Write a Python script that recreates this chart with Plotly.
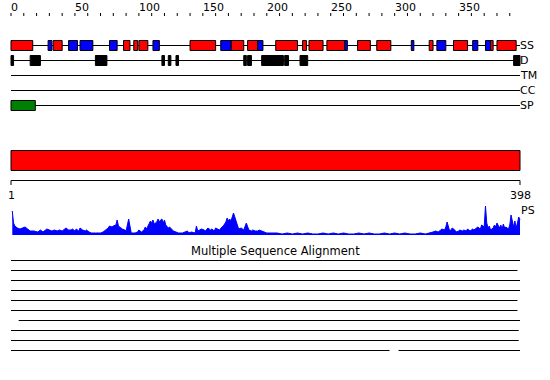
import plotly.graph_objects as go

# ---------------- data ----------------
seq_len = 398
seq_start = 1
ruler_labels = [0, 50, 100, 150, 200, 250, 300, 350]
ruler_ticks = list(range(0, 391, 10))

track_names = ["SS", "D", "TM", "CC", "SP"]

helix_start = [0, 33, 88, 96, 100, 140, 172, 185, 207, 228, 233, 247, 271, 286, 327, 346, 375, 380]
helix_end   = [17, 40, 93, 99, 107, 160, 182, 193, 224, 231, 244, 261, 281, 297, 330, 357, 377, 395]
strand_start = [29, 45, 54, 77, 111, 164, 193, 261, 313, 333, 361, 371]
strand_end   = [32, 52, 64, 83, 116, 172, 197, 263, 315, 340, 365, 375]

disorder_start = [0, 15, 66, 118, 123, 129, 182, 185, 196, 214, 226, 393]
disorder_end   = [2, 23, 75, 120, 125, 131, 184, 188, 213, 217, 232, 398]

signal_start = [0]
signal_end = [19]

domain_start = [0]
domain_end = [398]

ps_res = [1, 2, 3, 5, 7, 9, 11, 13, 15, 18, 21, 23, 25, 27, 28, 30, 32, 34, 36, 38,
          40, 42, 43, 45, 47, 48, 50, 51, 53, 54, 56, 58, 59, 61, 63, 66, 70, 72, 74, 76,
          77, 79, 80, 82, 83, 84, 86, 87, 89, 90, 91, 92, 93, 94, 97, 99, 100, 102, 104, 105,
          106, 108, 109, 110, 111, 112, 114, 115, 116, 117, 118, 119, 120, 121, 123, 124, 126, 127, 129, 131,
          134, 136, 138, 139, 141, 144, 145, 146, 148, 149, 151, 152, 154, 156, 157, 159, 160, 162, 163, 165,
          166, 168, 169, 170, 171, 172, 174, 175, 176, 177, 178, 180, 182, 184, 185, 186, 188, 189, 191, 193,
          194, 196, 197, 200, 204, 208, 212, 216, 220, 224, 228, 232, 236, 240, 244, 248, 252, 256, 260, 264,
          268, 272, 276, 280, 284, 288, 292, 296, 300, 304, 308, 312, 316, 320, 324, 328, 330, 332, 334, 336,
          337, 339, 340, 341, 342, 343, 344, 345, 347, 348, 350, 351, 353, 354, 356, 357, 359, 361, 362, 364,
          365, 367, 368, 370, 371, 372, 373, 374, 375, 377, 378, 379, 380, 382, 383, 384, 385, 386, 387, 389,
          390, 391, 392, 393, 394, 395, 396, 397, 398]
ps_score = [24, 12, 9, 7, 6, 7, 8, 6, 4, 4, 3, 5, 3, 5, 6, 5, 4, 5, 4, 5,
            4, 6, 7, 5, 5, 6, 4, 6, 4, 7, 5, 4, 5, 3, 2, 2, 2, 3, 5, 7,
            9, 8, 9, 10, 15, 9, 7, 6, 5, 4, 10, 16, 9, 2, 2, 3, 5, 3, 5, 8,
            6, 11, 14, 12, 15, 11, 13, 16, 13, 15, 16, 12, 15, 10, 7, 8, 5, 4, 3, 2,
            2, 3, 4, 2, 3, 2, 9, 4, 5, 6, 5, 4, 7, 5, 6, 4, 7, 6, 5, 8,
            9, 13, 17, 14, 16, 14, 22, 18, 14, 10, 6, 7, 5, 12, 8, 5, 4, 5, 4, 4,
            5, 4, 3, 2, 2, 2, 1, 2, 1, 2, 1, 2, 1, 1, 2, 1, 2, 1, 2, 1,
            1, 2, 1, 2, 1, 1, 2, 1, 2, 1, 2, 1, 1, 2, 1, 2, 3, 4, 3, 5,
            6, 5, 8, 13, 7, 4, 5, 7, 5, 3, 4, 5, 4, 5, 4, 6, 4, 6, 5, 7,
            8, 6, 10, 8, 29, 12, 7, 9, 5, 7, 10, 8, 12, 7, 10, 6, 11, 7, 8, 6,
            10, 20, 12, 8, 14, 7, 12, 18, 15]

msa_segments = [
    [(0, 398)], [(0, 396)], [(0, 398)], [(0, 398)], [(0, 396)],
    [(0, 396)], [(6, 398)], [(0, 397)], [(0, 397)], [(0, 296), (303, 398)],
]

# ---------------- layout helpers ----------------
W, H = 550, 380
X_LEFT_PX, X_RIGHT_PX = 11, 520   # where residue 0 / seq_len sit on the page
scale = (X_RIGHT_PX - X_LEFT_PX) / seq_len
xr = [-X_LEFT_PX / scale, (W - X_LEFT_PX) / scale]
yr = [H, 0]                       # y axis in pixel rows (layout only)

row_y = {"SS": 45.5, "D": 60.5, "TM": 75.5, "CC": 90.5, "SP": 105.5}
box_half = 5
RED, BLUE, GREEN, BLACK = "#ff0000", "#0000ff", "#008000", "#000000"
FONT = "DejaVu Sans"

shapes = []
annotations = []

def hline(x0, x1, y, color=BLACK, width=1):
    shapes.append(dict(type="line", xref="x", yref="y", x0=x0, x1=x1, y0=y, y1=y,
                       line=dict(color=color, width=width)))

def rect(x0, x1, yc, half, fill):
    shapes.append(dict(type="rect", xref="x", yref="y", x0=x0, x1=x1, y0=yc - half, y1=yc + half,
                       fillcolor=fill, line=dict(color=BLACK, width=1)))

def label(x, y, text, xanchor="left", xshift=0, size=11):
    annotations.append(dict(x=x, y=y, xref="x", yref="y", text=text, showarrow=False,
                            xanchor=xanchor, yanchor="middle", xshift=xshift,
                            font=dict(family=FONT, size=size, color=BLACK)))

# ruler
for t in ruler_ticks:
    shapes.append(dict(type="line", xref="x", yref="y", x0=t, x1=t, y0=13, y1=16,
                       line=dict(color=BLACK, width=1)))
for lab in ruler_labels:
    label(lab, 7, str(lab), xshift=-2)

# tracks
for name in track_names:
    hline(0, seq_len, row_y[name])
    label(seq_len, row_y[name], name, xshift=-2)

for s, e in zip(helix_start, helix_end):
    rect(s, e, row_y["SS"], box_half, RED)
for s, e in zip(strand_start, strand_end):
    rect(s, e, row_y["SS"], box_half, BLUE)
for s, e in zip(disorder_start, disorder_end):
    rect(s, e, row_y["D"], box_half, BLACK)
for s, e in zip(signal_start, signal_end):
    rect(s, e, row_y["SP"], box_half, GREEN)

# domain bar
for s, e in zip(domain_start, domain_end):
    rect(s, e, 160.5, 10, RED)

# sequence ruler
hline(0, seq_len, 180.5)
for t in [0, seq_len]:
    shapes.append(dict(type="line", xref="x", yref="y", x0=t, x1=t, y0=180.5, y1=185,
                       line=dict(color=BLACK, width=1)))
label(0, 195, str(seq_start), xanchor="center")
label(seq_len, 195, str(seq_len), xanchor="center")
label(seq_len, 210.5, "PS", xshift=-1)

# MSA
label((W / 2 - X_LEFT_PX) / scale, 251, "Multiple Sequence Alignment", xanchor="center", size=11.5)
for i, segs in enumerate(msa_segments):
    for s, e in segs:
        hline(s, e, 260.5 + 10 * i)

fig = go.Figure()
fig.add_trace(go.Scatter(x=ps_res, y=ps_score, mode="lines", fill="tozeroy",
                         line=dict(color=BLUE, width=1), fillcolor=BLUE,
                         yaxis="y2", hoverinfo="skip", showlegend=False))

ps_base_px, ps_top_px = 235, 205
fig.update_layout(
    width=W, height=H, margin=dict(l=0, r=0, t=0, b=0),
    paper_bgcolor="white", plot_bgcolor="white", showlegend=False,
    xaxis=dict(range=xr, visible=False, fixedrange=True),
    yaxis=dict(range=yr, visible=False, domain=[0, 1], fixedrange=True),
    yaxis2=dict(range=[0, 30], visible=False, anchor="x", fixedrange=True,
                domain=[(H - ps_base_px) / H, (H - ps_top_px) / H]),
    shapes=shapes, annotations=annotations,
)
# remove the browser's default 8px page margin so the figure sits at the window origin
fig.write_html("out.html", config={"displayModeBar": False},
               post_script="document.body.style.margin='0px';")
